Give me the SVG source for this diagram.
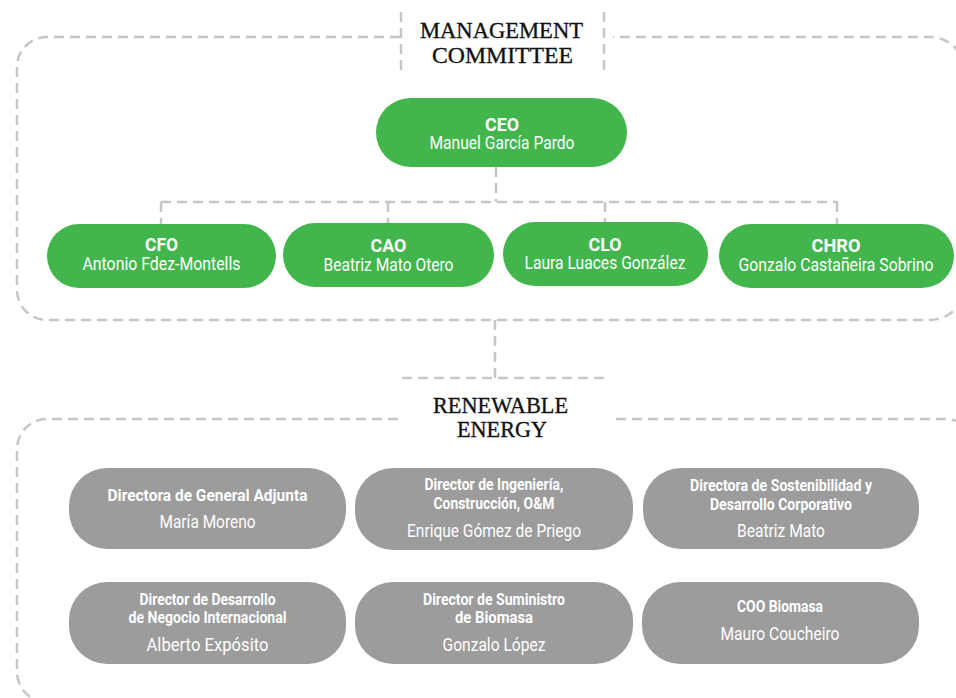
<svg xmlns="http://www.w3.org/2000/svg" width="956" height="698" viewBox="0 0 956 698">
<style>
.frame{fill:none;stroke:#c6c6c6;stroke-width:2.5;stroke-dasharray:10 6}
.conn{fill:none;stroke:#c6c6c6;stroke-width:2.5;stroke-dasharray:10 6}
.green{fill:#42b64c}
.gray{fill:#9c9c9c}
.hd{font-family:"Liberation Serif",serif;font-size:24px;fill:#111;stroke:#111;stroke-width:0.35;text-anchor:middle}
.t{font-family:Roboto,"Liberation Sans",sans-serif;fill:#fff;text-anchor:middle}
.gb{font-weight:700;font-size:18px}
.gn{font-size:17.5px}
.yb{font-weight:700;font-size:16px}
.yn{font-size:19px}
</style>
<g id="management-committee">
<path class="frame" d="M400 37 H47 A30 30 0 0 0 17 67 V290 A30 30 0 0 0 47 320 H930 A35 35 0 0 0 965 285 V72 A35 35 0 0 0 930 37 H613"/>
<line class="frame" x1="401" y1="12" x2="401" y2="70"/>
<line class="frame" x1="604" y1="12" x2="604" y2="70"/>
<text class="hd" x="501.5" y="38" textLength="163" lengthAdjust="spacingAndGlyphs">MANAGEMENT</text>
<text class="hd" x="502.5" y="63" textLength="141" lengthAdjust="spacingAndGlyphs">COMMITTEE</text>
</g>
<g id="renewable-energy">
<path class="frame" d="M398 419 H47 A30 30 0 0 0 17 449 V672 A30 30 0 0 0 47 702 H945 A35 35 0 0 0 980 667 V454 A35 35 0 0 0 945 419 H614"/>
<text class="hd" x="500.5" y="413" textLength="135" lengthAdjust="spacingAndGlyphs">RENEWABLE</text>
<text class="hd" x="502" y="437" textLength="90" lengthAdjust="spacingAndGlyphs">ENERGY</text>
</g>
<g id="connectors">
<path class="conn" d="M496 167 V202"/>
<path class="conn" d="M161 202 H838"/>
<path class="conn" d="M161 202 V224"/>
<path class="conn" d="M388 202 V223"/>
<path class="conn" d="M605 202 V222"/>
<path class="conn" d="M837 202 V224"/>
<path class="conn" d="M495 320 V378"/>
<path class="conn" d="M402 378 H604"/>
</g>
<g id="ceo">
<rect class="green" x="376" y="98" width="251" height="69" rx="34.5"/>
<text class="t gb" x="502" y="131" textLength="34" lengthAdjust="spacingAndGlyphs">CEO</text>
<text class="t gn" x="502" y="149" textLength="145" lengthAdjust="spacingAndGlyphs">Manuel García Pardo</text>
</g>
<g id="cfo">
<rect class="green" x="47" y="224" width="229" height="64" rx="32"/>
<text class="t gb" x="161.5" y="251" textLength="33" lengthAdjust="spacingAndGlyphs">CFO</text>
<text class="t gn" x="161.5" y="270" textLength="158" lengthAdjust="spacingAndGlyphs">Antonio Fdez-Montells</text>
</g>
<g id="cao">
<rect class="green" x="283" y="223" width="211" height="64" rx="32"/>
<text class="t gb" x="388.5" y="252" textLength="36" lengthAdjust="spacingAndGlyphs">CAO</text>
<text class="t gn" x="388.5" y="271" textLength="130" lengthAdjust="spacingAndGlyphs">Beatriz Mato Otero</text>
</g>
<g id="clo">
<rect class="green" x="503" y="222" width="205" height="64" rx="32"/>
<text class="t gb" x="605" y="251" textLength="33" lengthAdjust="spacingAndGlyphs">CLO</text>
<text class="t gn" x="605" y="269" textLength="161" lengthAdjust="spacingAndGlyphs">Laura Luaces González</text>
</g>
<g id="chro">
<rect class="green" x="719" y="224" width="235" height="64" rx="32"/>
<text class="t gb" x="836" y="252" textLength="49" lengthAdjust="spacingAndGlyphs">CHRO</text>
<text class="t gn" x="836" y="271" textLength="195" lengthAdjust="spacingAndGlyphs">Gonzalo Castañeira Sobrino</text>
</g>
<g id="directora-general-adjunta">
<rect class="gray" x="69" y="468" width="277" height="81" rx="38"/>
<text class="t yb" x="207.5" y="501" textLength="200" lengthAdjust="spacingAndGlyphs">Directora de General Adjunta</text>
<text class="t yn" x="207.5" y="528" textLength="96" lengthAdjust="spacingAndGlyphs">María Moreno</text>
</g>
<g id="director-ingenieria">
<rect class="gray" x="355" y="468" width="278" height="82" rx="38"/>
<text class="t yb" x="494" y="490" textLength="139" lengthAdjust="spacingAndGlyphs">Director de Ingeniería,</text>
<text class="t yb" x="494" y="509" textLength="121" lengthAdjust="spacingAndGlyphs">Construcción, O&amp;M</text>
<text class="t yn" x="494" y="537" textLength="174" lengthAdjust="spacingAndGlyphs">Enrique Gómez de Priego</text>
</g>
<g id="directora-sostenibilidad">
<rect class="gray" x="643" y="468" width="276" height="81" rx="38"/>
<text class="t yb" x="781" y="491" textLength="182" lengthAdjust="spacingAndGlyphs">Directora de Sostenibilidad y</text>
<text class="t yb" x="781" y="510" textLength="142" lengthAdjust="spacingAndGlyphs">Desarrollo Corporativo</text>
<text class="t yn" x="781" y="537" textLength="88" lengthAdjust="spacingAndGlyphs">Beatriz Mato</text>
</g>
<g id="director-desarrollo-negocio">
<rect class="gray" x="69" y="582" width="277" height="82" rx="38"/>
<text class="t yb" x="207.5" y="605" textLength="136" lengthAdjust="spacingAndGlyphs">Director de Desarrollo</text>
<text class="t yb" x="207.5" y="623" textLength="158" lengthAdjust="spacingAndGlyphs">de Negocio Internacional</text>
<text class="t yn" x="207.5" y="651" textLength="122" lengthAdjust="spacingAndGlyphs">Alberto Expósito</text>
</g>
<g id="director-suministro">
<rect class="gray" x="355" y="582" width="278" height="82" rx="38"/>
<text class="t yb" x="494" y="605" textLength="142" lengthAdjust="spacingAndGlyphs">Director de Suministro</text>
<text class="t yb" x="494" y="623" textLength="78" lengthAdjust="spacingAndGlyphs">de Biomasa</text>
<text class="t yn" x="494" y="651" textLength="103" lengthAdjust="spacingAndGlyphs">Gonzalo López</text>
</g>
<g id="coo-biomasa">
<rect class="gray" x="642" y="582" width="277" height="82" rx="38"/>
<text class="t yb" x="780" y="612" textLength="86" lengthAdjust="spacingAndGlyphs">COO Biomasa</text>
<text class="t yn" x="780" y="640" textLength="119" lengthAdjust="spacingAndGlyphs">Mauro Coucheiro</text>
</g>
</svg>
